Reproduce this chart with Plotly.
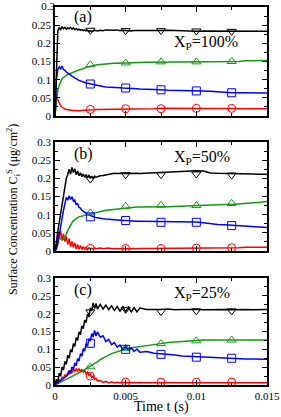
import plotly.graph_objects as go

# ---------------- data ----------------
t = [0.0000, 0.0001, 0.0002, 0.0003, 0.0004, 0.0005, 0.0006, 0.0007, 0.0008, 0.0009,
     0.0010, 0.0011, 0.0012, 0.0013, 0.0014, 0.0015, 0.0016, 0.0017, 0.0018, 0.0019,
     0.0020, 0.0021, 0.0022, 0.0023, 0.0024, 0.0025, 0.0026, 0.0027, 0.0028, 0.0029,
     0.0030, 0.0032, 0.0034, 0.0036, 0.0038, 0.0040, 0.0042, 0.0044, 0.0046, 0.0048,
     0.0050, 0.0052, 0.0054, 0.0056, 0.0058, 0.0060, 0.0065, 0.0070, 0.0075, 0.0080,
     0.0085, 0.0090, 0.0095, 0.0100, 0.0105, 0.0110, 0.0115, 0.0120, 0.0125, 0.0130,
     0.0135, 0.0140, 0.0145, 0.0150]

# Panel (a): X_P = 100%
a_black = [0.000, 0.150, 0.235, 0.243, 0.238, 0.246, 0.240, 0.244, 0.239, 0.243,
           0.240, 0.244, 0.239, 0.242, 0.238, 0.241, 0.237, 0.239, 0.236, 0.238,
           0.235, 0.237, 0.234, 0.236, 0.233, 0.235, 0.232, 0.234, 0.236, 0.235,
           0.234, 0.236, 0.235, 0.237, 0.236, 0.235, 0.236, 0.237, 0.235, 0.236,
           0.235, 0.236, 0.234, 0.235, 0.236, 0.235, 0.235, 0.234, 0.235, 0.236,
           0.235, 0.234, 0.235, 0.233, 0.234, 0.234, 0.233, 0.234, 0.233, 0.234,
           0.233, 0.234, 0.233, 0.233]
a_green = [0.000, 0.040, 0.070, 0.085, 0.095, 0.102, 0.106, 0.110, 0.112, 0.114,
           0.116, 0.118, 0.119, 0.121, 0.122, 0.124, 0.125, 0.126, 0.128, 0.129,
           0.130, 0.132, 0.133, 0.135, 0.136, 0.138, 0.139, 0.140, 0.140, 0.141,
           0.141, 0.142, 0.143, 0.143, 0.144, 0.144, 0.145, 0.145, 0.145, 0.146,
           0.146, 0.146, 0.147, 0.147, 0.147, 0.147, 0.148, 0.148, 0.148, 0.148,
           0.148, 0.148, 0.149, 0.149, 0.149, 0.149, 0.150, 0.150, 0.150, 0.150,
           0.152, 0.153, 0.153, 0.153]
a_blue = [0.000, 0.100, 0.128, 0.135, 0.130, 0.137, 0.128, 0.126, 0.121, 0.119,
          0.116, 0.113, 0.110, 0.107, 0.104, 0.102, 0.100, 0.098, 0.096, 0.094,
          0.093, 0.092, 0.091, 0.090, 0.089, 0.088, 0.087, 0.086, 0.085, 0.084,
          0.083, 0.082, 0.081, 0.080, 0.080, 0.079, 0.079, 0.078, 0.078, 0.077,
          0.077, 0.076, 0.076, 0.075, 0.075, 0.074, 0.074, 0.073, 0.072, 0.071,
          0.071, 0.070, 0.070, 0.069, 0.069, 0.068, 0.066, 0.065, 0.064, 0.064,
          0.064, 0.063, 0.063, 0.063]
a_red = [0.000, 0.055, 0.045, 0.035, 0.028, 0.024, 0.021, 0.019, 0.018, 0.017,
         0.016, 0.016, 0.015, 0.015, 0.015, 0.014, 0.015, 0.014, 0.015, 0.015,
         0.015, 0.015, 0.016, 0.016, 0.016, 0.017, 0.017, 0.017, 0.017, 0.018,
         0.018, 0.018, 0.018, 0.019, 0.019, 0.019, 0.019, 0.019, 0.019, 0.020,
         0.020, 0.020, 0.020, 0.020, 0.020, 0.020, 0.020, 0.020, 0.021, 0.021,
         0.021, 0.021, 0.021, 0.021, 0.021, 0.021, 0.021, 0.021, 0.021, 0.021,
         0.020, 0.020, 0.020, 0.020]

# Panel (b): X_P = 50%
b_black = [0.000, 0.020, 0.055, 0.080, 0.110, 0.135, 0.160, 0.180, 0.200, 0.210,
           0.225, 0.212, 0.230, 0.216, 0.226, 0.210, 0.220, 0.207, 0.215, 0.205,
           0.212, 0.203, 0.210, 0.202, 0.208, 0.201, 0.205, 0.200, 0.206, 0.203,
           0.205, 0.207, 0.208, 0.210, 0.212, 0.213, 0.214, 0.213, 0.214, 0.215,
           0.214, 0.213, 0.214, 0.213, 0.214, 0.213, 0.214, 0.214, 0.215, 0.216,
           0.218, 0.220, 0.221, 0.221, 0.220, 0.215, 0.214, 0.214, 0.213, 0.213,
           0.213, 0.212, 0.211, 0.211]
b_green = [0.000, 0.012, 0.028, 0.038, 0.034, 0.030, 0.032, 0.038, 0.046, 0.056,
           0.064, 0.072, 0.078, 0.083, 0.087, 0.090, 0.092, 0.094, 0.095, 0.096,
           0.097, 0.098, 0.099, 0.100, 0.101, 0.102, 0.103, 0.104, 0.105, 0.106,
           0.107, 0.108, 0.110, 0.112, 0.113, 0.114, 0.115, 0.116, 0.117, 0.118,
           0.119, 0.119, 0.120, 0.120, 0.121, 0.121, 0.122, 0.122, 0.122, 0.122,
           0.123, 0.123, 0.124, 0.125, 0.126, 0.126, 0.127, 0.128, 0.128, 0.129,
           0.132, 0.133, 0.134, 0.136]
b_blue = [0.000, 0.005, 0.020, 0.040, 0.065, 0.090, 0.112, 0.132, 0.148, 0.140,
          0.152, 0.142, 0.149, 0.138, 0.140, 0.128, 0.130, 0.120, 0.118, 0.112,
          0.110, 0.106, 0.104, 0.101, 0.099, 0.097, 0.096, 0.094, 0.093, 0.092,
          0.091, 0.090, 0.089, 0.088, 0.087, 0.086, 0.086, 0.085, 0.085, 0.084,
          0.084, 0.083, 0.083, 0.083, 0.082, 0.082, 0.082, 0.081, 0.081, 0.081,
          0.080, 0.080, 0.080, 0.080, 0.078, 0.075, 0.073, 0.072, 0.071, 0.070,
          0.068, 0.066, 0.066, 0.065]
b_red = [0.000, 0.030, 0.052, 0.038, 0.055, 0.030, 0.048, 0.026, 0.040, 0.018,
         0.034, 0.012, 0.026, 0.010, 0.022, 0.006, 0.018, 0.005, 0.015, 0.004,
         0.012, 0.005, 0.010, 0.004, 0.009, 0.006, 0.008, 0.005, 0.009, 0.006,
         0.007, 0.008, 0.006, 0.007, 0.008, 0.006, 0.007, 0.007, 0.006, 0.007,
         0.007, 0.006, 0.007, 0.007, 0.006, 0.007, 0.007, 0.007, 0.008, 0.007,
         0.008, 0.008, 0.008, 0.008, 0.008, 0.009, 0.009, 0.009, 0.009, 0.009,
         0.010, 0.010, 0.010, 0.010]

# Panel (c): X_P = 25%
c_black = [0.000, 0.016, 0.009, 0.033, 0.025, 0.050, 0.042, 0.066, 0.058, 0.083,
           0.075, 0.099, 0.092, 0.116, 0.108, 0.133, 0.125, 0.149, 0.141, 0.166,
           0.158, 0.182, 0.175, 0.199, 0.191, 0.216, 0.208, 0.230, 0.214, 0.229,
           0.213, 0.226, 0.213, 0.224, 0.211, 0.222, 0.209, 0.220, 0.207, 0.219,
           0.206, 0.218, 0.205, 0.217, 0.205, 0.216, 0.212, 0.211, 0.212, 0.213,
           0.211, 0.212, 0.213, 0.212, 0.211, 0.212, 0.213, 0.212, 0.211, 0.212,
           0.212, 0.211, 0.212, 0.212]
c_green = [0.000, 0.002, 0.003, 0.005, 0.006, 0.008, 0.010, 0.012, 0.014, 0.016,
           0.018, 0.020, 0.022, 0.024, 0.026, 0.028, 0.031, 0.033, 0.036, 0.038,
           0.041, 0.043, 0.045, 0.048, 0.050, 0.053, 0.055, 0.058, 0.060, 0.063,
           0.065, 0.071, 0.076, 0.080, 0.084, 0.088, 0.091, 0.094, 0.096, 0.099,
           0.101, 0.103, 0.104, 0.105, 0.106, 0.107, 0.110, 0.113, 0.116, 0.119,
           0.121, 0.123, 0.124, 0.125, 0.126, 0.126, 0.126, 0.126, 0.126, 0.126,
           0.126, 0.126, 0.126, 0.126]
c_blue = [0.000, 0.004, 0.007, 0.010, 0.012, 0.016, 0.018, 0.022, 0.025, 0.028,
          0.041, 0.032, 0.051, 0.042, 0.062, 0.054, 0.074, 0.067, 0.088, 0.081,
          0.102, 0.095, 0.116, 0.109, 0.130, 0.123, 0.144, 0.135, 0.153, 0.137,
          0.149, 0.134, 0.138, 0.122, 0.128, 0.113, 0.119, 0.106, 0.112, 0.100,
          0.108, 0.097, 0.104, 0.094, 0.101, 0.092, 0.094, 0.089, 0.088, 0.085,
          0.084, 0.081, 0.080, 0.078, 0.077, 0.076, 0.076, 0.075, 0.074, 0.074,
          0.073, 0.073, 0.073, 0.072]
c_red = [0.000, 0.008, 0.006, 0.015, 0.012, 0.022, 0.019, 0.028, 0.025, 0.034,
         0.031, 0.039, 0.035, 0.043, 0.038, 0.045, 0.039, 0.045, 0.038, 0.044,
         0.036, 0.041, 0.032, 0.036, 0.027, 0.031, 0.021, 0.025, 0.016, 0.019,
         0.011, 0.013, 0.007, 0.010, 0.006, 0.009, 0.006, 0.008, 0.006, 0.008,
         0.006, 0.007, 0.006, 0.007, 0.006, 0.007, 0.006, 0.006, 0.006, 0.006,
         0.006, 0.006, 0.006, 0.006, 0.006, 0.006, 0.006, 0.006, 0.006, 0.006,
         0.006, 0.006, 0.006, 0.006]

# symbol positions
mk_t = [0.0025, 0.005, 0.0075, 0.010, 0.0125]
a_mk_black = [0.236, 0.235, 0.235, 0.234, 0.233]
a_mk_green = [0.141, 0.146, 0.149, 0.149, 0.150]
a_mk_blue = [0.088, 0.077, 0.072, 0.069, 0.064]
a_mk_red = [0.018, 0.020, 0.020, 0.021, 0.021]
b_mk_black = [0.198, 0.210, 0.210, 0.212, 0.209]
b_mk_green = [0.105, 0.123, 0.126, 0.125, 0.131]
b_mk_blue = [0.094, 0.084, 0.079, 0.079, 0.070]
b_mk_red = [0.007, 0.007, 0.007, 0.008, 0.009]
c_mk_black = [0.205, 0.212, 0.206, 0.208, 0.208]
c_mk_green = [0.051, 0.103, 0.116, 0.124, 0.126]
c_mk_blue = [0.117, 0.100, 0.086, 0.078, 0.075]
c_mk_red = [0.025, 0.008, 0.008, 0.008, 0.008]

panel_labels = ["(a)", "(b)", "(c)"]
xp_labels = ["X<sub>P</sub>=100%", "X<sub>P</sub>=50%", "X<sub>P</sub>=25%"]
y_ticks = [0, 0.05, 0.1, 0.15, 0.2, 0.25, 0.3]
y_ticktext = ["0", "0.05", "0.1", "0.15", "0.2", "0.25", "0.3"]
x_ticks = [0, 0.005, 0.01, 0.015]
x_ticktext = ["0", "0.005", "0.01", "0.015"]

# ---------------- figure ----------------
W, H = 281, 417
FONT = "Liberation Serif"
colors = {"black": "#000000", "green": "#139a13", "blue": "#0000ff", "red": "#ff0000"}
symbols = {"black": "triangle-down-open", "green": "triangle-up-open",
           "blue": "square-open", "red": "circle-open"}

panels = [
    dict(lines={"red": a_red, "green": a_green, "blue": a_blue, "black": a_black},
         marks={"red": a_mk_red, "green": a_mk_green, "blue": a_mk_blue, "black": a_mk_black},
         top=7, bottom=116),
    dict(lines={"red": b_red, "green": b_green, "blue": b_blue, "black": b_black},
         marks={"red": b_mk_red, "green": b_mk_green, "blue": b_mk_blue, "black": b_mk_black},
         top=142, bottom=251),
    dict(lines={"red": c_red, "green": c_green, "blue": c_blue, "black": c_black},
         marks={"red": c_mk_red, "green": c_mk_green, "blue": c_mk_blue, "black": c_mk_black},
         top=278, bottom=385),
]

x_left, x_right = 55, 267
fig = go.Figure()
layout = dict(width=W, height=H, autosize=False,
              margin=dict(l=0, r=0, t=0, b=0),
              paper_bgcolor="white", plot_bgcolor="white",
              showlegend=False, font=dict(family=FONT, color="black"))

annotations = []
for i, p in enumerate(panels):
    sfx = "" if i == 0 else str(i + 1)
    xa, ya = "x" + sfx, "y" + sfx
    for key, vals in p["lines"].items():
        fig.add_trace(go.Scatter(x=t, y=vals, mode="lines", xaxis=xa, yaxis=ya,
                                 line=dict(color=colors[key], width=1.5),
                                 hoverinfo="skip"))
    for key, vals in p["marks"].items():
        fig.add_trace(go.Scatter(x=mk_t, y=vals, mode="markers", xaxis=xa, yaxis=ya,
                                 marker=dict(symbol=symbols[key], size=8,
                                             color=colors[key], line=dict(width=1)),
                                 hoverinfo="skip"))
    ydom = [1 - p["bottom"] / H, 1 - p["top"] / H]
    # top panel: the top tick label touches the page edge, so it is drawn as a
    # text mark placed at the axis start, left of the axis line
    yt = y_ticks if i > 0 else y_ticks[:-1]
    ytt = y_ticktext if i > 0 else y_ticktext[:-1]
    if i == 0:
        fig.add_trace(go.Scatter(x=[t[0]], y=[y_ticks[-1]], mode="text",
                                 text=[y_ticktext[-1]], textposition="middle left",
                                 textfont=dict(family=FONT, size=11, color="black"),
                                 cliponaxis=False, xaxis=xa, yaxis=ya,
                                 hoverinfo="skip"))
    layout["xaxis" + sfx] = dict(
        domain=[x_left / W, x_right / W], range=[0, 0.015], anchor=ya,
        tickvals=x_ticks, ticktext=x_ticktext, showticklabels=(i == 2),
        ticks="inside", ticklen=5, tickwidth=1, tickcolor="black",
        minor=dict(ticks="inside", ticklen=3, tickwidth=1, tickcolor="black", dtick=0.0025),
        showline=True, linecolor="black", linewidth=1.5, mirror="ticks",
        showgrid=False, zeroline=False, automargin=False, ticklabeloverflow="allow",
        tickfont=dict(family=FONT, size=11, color="black"))
    layout["yaxis" + sfx] = dict(
        domain=ydom, range=[0, 0.30001], anchor=xa,
        tickvals=yt, ticktext=ytt,
        ticks="inside", ticklen=5, tickwidth=1, tickcolor="black",
        minor=dict(ticks="inside", ticklen=3, tickwidth=1, tickcolor="black", dtick=0.025),
        showline=True, linecolor="black", linewidth=1.5, mirror="ticks",
        showgrid=False, zeroline=False, automargin=False, ticklabeloverflow="allow",
        tickfont=dict(family=FONT, size=11, color="black"))
    annotations.append(dict(text=panel_labels[i], x=83 / W,
                            y=1 - ([5, 142, 278][i] + 12) / H,
                            xref="paper", yref="paper", showarrow=False,
                            xanchor="center", yanchor="middle",
                            font=dict(family=FONT, size=16, color="black")))
    annotations.append(dict(text=xp_labels[i], x=172 / W,
                            y=1 - ([5, 142, 278][i] + [37, 15, 15][i]) / H,
                            xref="paper", yref="paper", showarrow=False,
                            xanchor="left", yanchor="middle",
                            font=dict(family=FONT, size=16, color="black")))

annotations.append(dict(text="Surface Concentration C<sub>i</sub><sup>S</sup> (μg/cm<sup>2</sup>)",
                        x=13 / W, y=1 - 210 / H, xref="paper", yref="paper",
                        showarrow=False, textangle=-90, xanchor="center", yanchor="middle",
                        font=dict(family=FONT, size=12, color="black")))
annotations.append(dict(text="Time t (s)", x=161 / W, y=1 - 407 / H,
                        xref="paper", yref="paper", showarrow=False,
                        xanchor="center", yanchor="middle",
                        font=dict(family=FONT, size=14, color="black")))
layout["annotations"] = annotations
fig.update_layout(**layout)
fig.write_html("out.html", config={"displayModeBar": False},
               post_script="document.body.style.margin='0';document.body.style.overflow='hidden';")
